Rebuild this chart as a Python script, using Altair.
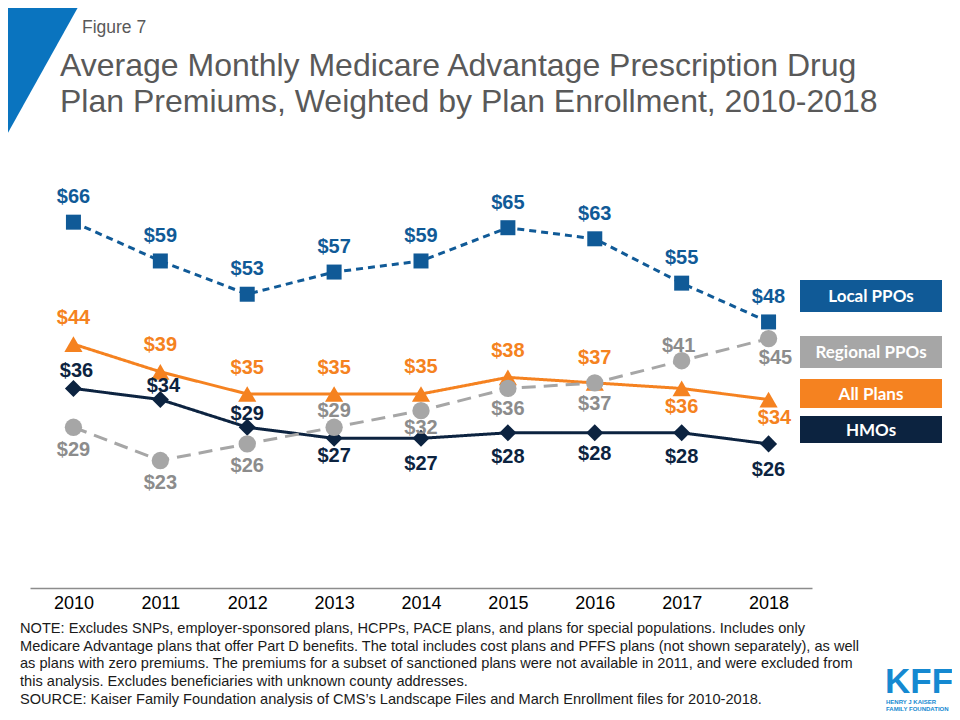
import altair as alt
import pandas as pd

# ---------------- data ----------------
years = ["2010", "2011", "2012", "2013", "2014", "2015", "2016", "2017", "2018"]
series_names = ["Local PPOs", "Regional PPOs", "All Plans", "HMOs"]
local_ppos = [66, 59, 53, 57, 59, 65, 63, 55, 48]
regional_ppos = [29, 23, 26, 29, 32, 36, 37, 41, 45]
all_plans = [44, 39, 35, 35, 35, 38, 37, 36, 34]
hmos = [36, 34, 29, 27, 27, 28, 28, 28, 26]
values = {
    "Local PPOs": local_ppos,
    "Regional PPOs": regional_ppos,
    "All Plans": all_plans,
    "HMOs": hmos,
}

title_lines = [
    "Average Monthly Medicare Advantage Prescription Drug",
    "Plan Premiums, Weighted by Plan Enrollment, 2010-2018",
]
figure_label = "Figure 7"
note_lines = [
    "NOTE: Excludes SNPs, employer-sponsored plans, HCPPs, PACE plans, and plans for special populations.  Includes only",
    "Medicare Advantage plans that offer Part D benefits. The total includes cost plans and PFFS plans (not shown separately), as well",
    "as plans with zero premiums. The premiums for a subset of sanctioned plans were not available in 2011, and were excluded from",
    "this analysis. Excludes beneficiaries with unknown county addresses.",
    "SOURCE: Kaiser Family Foundation analysis of CMS\u2019s Landscape Files and March Enrollment files for 2010-2018.",
]
logo_text = "KFF"
logo_sub = ["HENRY J KAISER", "FAMILY FOUNDATION"]

# ---------------- layout / style (pixels) ----------------
label_dy = {
    "Local PPOs": [-25, -25, -25, -25, -25, -25, -25, -25, -25],
    "Regional PPOs": [23, 22, 22, -16, 17, 21, 21, -15, 19],
    "All Plans": [-26, -27, -26, -26, -27, -26, -25, 19, 18],
    "HMOs": [-17, -14, -13, 18, 26, 24, 21, 24, 26],
}
label_dx = {
    "Local PPOs": [0, 0, 0, 0, 0, 0, 0, 0, 0],
    "Regional PPOs": [0, 0, 0, 0, 0, 0, 0, -3, 7],
    "All Plans": [0, 0, 0, 0, 0, 0, 0, 0, 6],
    "HMOs": [3, 3, 0, 0, 0, 0, 0, 0, 0],
}
line_color = {
    "Local PPOs": "#105a97",
    "Regional PPOs": "#a6a6a6",
    "All Plans": "#f58220",
    "HMOs": "#0c2340",
}
label_color = {
    "Local PPOs": "#105a97",
    "Regional PPOs": "#8c8c8c",
    "All Plans": "#f58220",
    "HMOs": "#0c2340",
}
dash = {
    "Local PPOs": [7, 5],
    "Regional PPOs": [14, 8],
    "All Plans": [1, 0],
    "HMOs": [1, 0],
}
shape = {
    "Local PPOs": "square",
    "Regional PPOs": "circle",
    "All Plans": "triangle-up",
    "HMOs": "diamond",
}
msize = {"Local PPOs": 225, "Regional PPOs": 300, "All Plans": 330, "HMOs": 290}
legend_box = {  # x0, x1, y0, y1 in plot coords
    "Local PPOs": (770, 912, 80, 112),
    "Regional PPOs": (770, 912, 136, 168),
    "All Plans": (770, 912, 179, 208),
    "HMOs": (770, 912, 216, 243),
}

W, H = 782, 388
YMAX = 70

rows = []
for s in series_names:
    for i, yr in enumerate(years):
        rows.append({
            "series": s, "year": yr, "value": values[s][i],
            "lab": "$" + str(values[s][i]),
            "dy": label_dy[s][i], "dx": label_dx[s][i],
        })
df = pd.DataFrame(rows)

xenc = alt.X(
    "year:O",
    sort=years,
    scale=alt.Scale(type="point", padding=0.5),
    axis=alt.Axis(
        title=None, labelAngle=0, ticks=False, grid=False,
        domainColor="#8c8c8c", domainWidth=1.5,
        labelFont="Liberation Sans", labelFontSize=18, labelColor="#000000",
        labelPadding=6,
    ),
)
yscale = alt.Scale(domain=[0, YMAX], nice=False, zero=True)

base = alt.Chart(df)
layers = []


def text_layer(txt, x, y, **kw):
    return alt.Chart(pd.DataFrame({"t": [txt]})).mark_text(**kw).encode(
        x=alt.value(x), y=alt.value(y), text="t:N"
    )


# decoration triangle (top-left)
layers.append(
    alt.Chart(pd.DataFrame({"a": [1]})).mark_point(
        shape="M-1,-1L0.1156,-1L-1,1Z", filled=True, size=147 * 147,
        color="#0a74bf", opacity=1, strokeWidth=0,
    ).encode(x=alt.value(43.5), y=alt.value(-126.5))
)

# titles
layers.append(text_layer(figure_label, 52, -167, align="left", baseline="alphabetic",
                         font="Liberation Sans", fontSize=17.5, color="#595959"))
layers.append(text_layer("\n".join(title_lines), 30, -124, align="left",
                         baseline="alphabetic", font="Liberation Sans", fontSize=32,
                         color="#595959", lineBreak="\n", lineHeight=36))

draw_order = ["HMOs", "All Plans", "Regional PPOs", "Local PPOs"]
for s in draw_order:
    sub = base.transform_filter(alt.datum.series == s)
    layers.append(
        sub.mark_line(color=line_color[s], strokeWidth=3, strokeDash=dash[s]).encode(
            x=xenc, y=alt.Y("value:Q", scale=yscale, axis=None)
        )
    )
for s in draw_order:
    sub = base.transform_filter(alt.datum.series == s)
    layers.append(
        sub.mark_point(shape=shape[s], filled=True, size=msize[s],
                       color=line_color[s], opacity=1, strokeWidth=0).encode(
            x=xenc, y=alt.Y("value:Q", scale=yscale, axis=None)
        )
    )
for s in draw_order:
    for dxv in sorted(set(label_dx[s])):
        sub = base.transform_filter(
            (alt.datum.series == s) & (alt.datum.dx == dxv)
        ).transform_calculate(ly=f"datum.value - datum.dy * {YMAX} / {H}")
        layers.append(
            sub.mark_text(font="Liberation Sans", fontWeight="bold", fontSize=20,
                          color=label_color[s], baseline="middle", align="center",
                          dx=dxv).encode(
                x=xenc, y=alt.Y("ly:Q", scale=yscale, axis=None), text="lab:N"
            )
        )

# legend boxes
for s in series_names:
    x0, x1, y0, y1 = legend_box[s]
    layers.append(
        alt.Chart(pd.DataFrame({"s": [s]})).mark_rect(color=line_color[s]).encode(
            x=alt.value(x0), x2=alt.value(x1), y=alt.value(y0), y2=alt.value(y1)
        )
    )
    layers.append(
        alt.Chart(pd.DataFrame({"s": [s]})).mark_text(
            font="Lato", fontWeight="bold", fontSize=17, color="#ffffff",
            align="center", baseline="middle",
        ).encode(x=alt.value((x0 + x1) / 2), y=alt.value((y0 + y1) / 2 + 1), text="s:N")
    )

# notes
layers.append(text_layer("\n".join(note_lines), -10, 433, align="left",
                         baseline="alphabetic", font="Liberation Sans", fontSize=14.6,
                         color="#1a1a1a", lineBreak="\n", lineHeight=17.7))

# KFF logo
layers.append(text_layer(logo_text, 855, 493, align="left", baseline="alphabetic",
                         font="Liberation Sans", fontWeight="bold", fontSize=35,
                         color="#1589d1"))
layers.append(text_layer(logo_sub[0], 856, 504, align="left", baseline="alphabetic",
                         font="Liberation Sans", fontWeight="bold", fontSize=6,
                         color="#1589d1"))
layers.append(text_layer(logo_sub[1], 856, 511, align="left", baseline="alphabetic",
                         font="Liberation Sans", fontWeight="bold", fontSize=6,
                         color="#1589d1"))

chart = alt.layer(*layers).properties(
    width=W, height=H,
    padding={"left": 22, "top": 192, "right": 140, "bottom": 124},
    autosize=alt.AutoSizeParams(type="none"),
    background="white",
).configure_view(stroke=None)

chart.save("out.html", embed_options={"renderer": "svg", "actions": False})
